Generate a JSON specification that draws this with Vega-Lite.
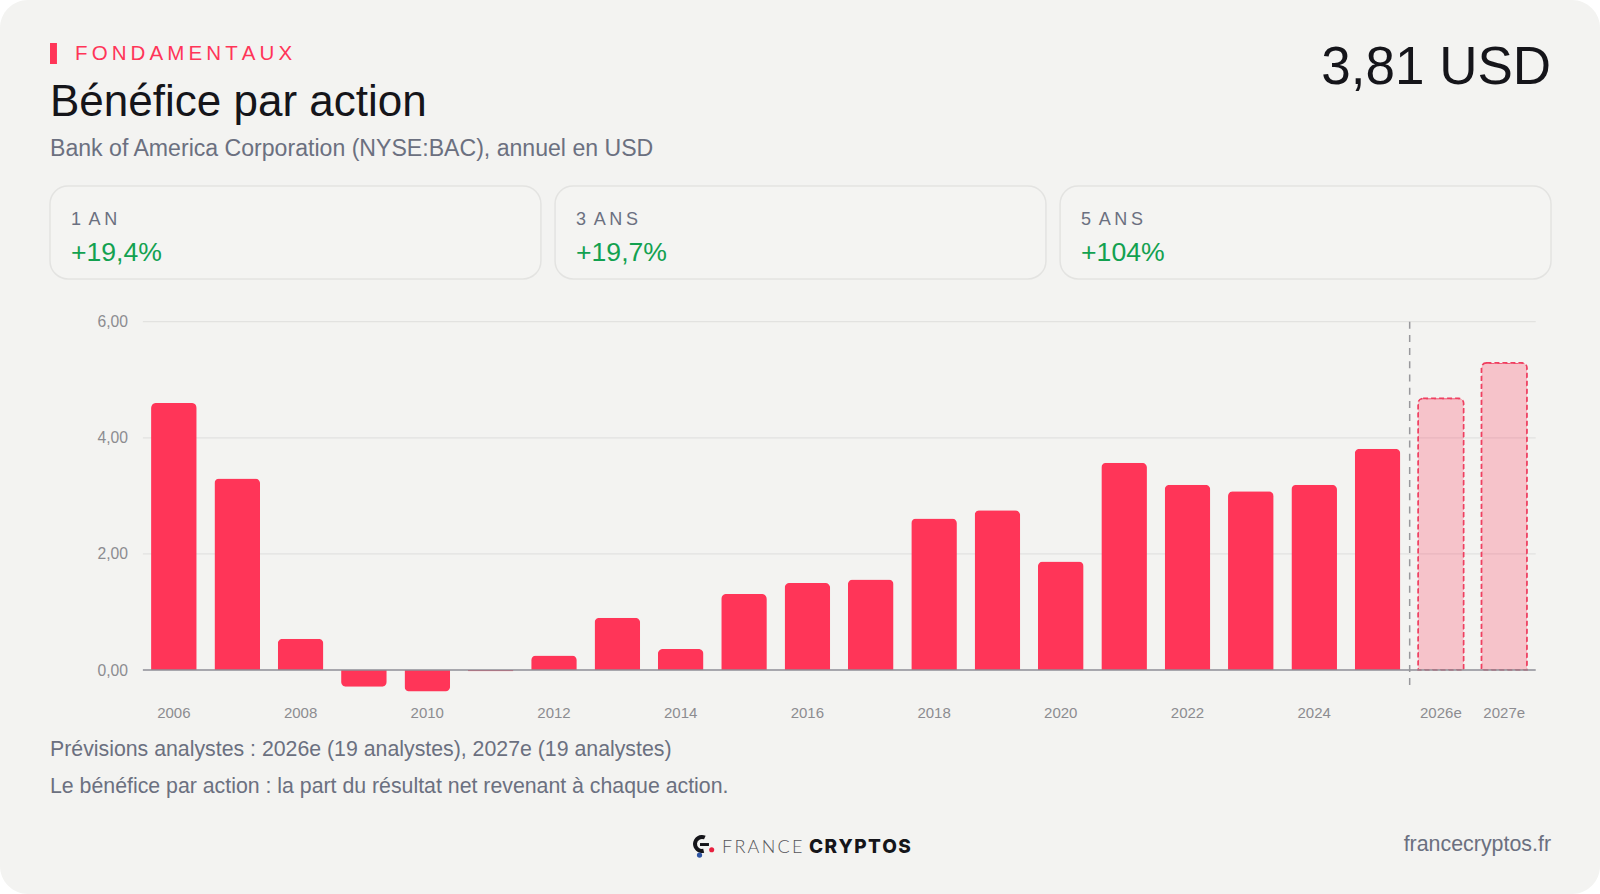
{
  "$schema": "https://vega.github.io/schema/vega-lite/v6.json",
  "width": 1600,
  "height": 894,
  "padding": 0,
  "autosize": {"type": "none"},
  "background": "#ffffff",
  "view": {"fill": "#f3f3f1", "stroke": null, "cornerRadius": 28},
  "config": {
    "font": "Liberation Sans",
    "text": {"baseline": "alphabetic"},
    "locale": {"number": {"decimal": ",", "thousands": " ", "grouping": [3], "currency": ["", " $"]}}
  },
  "datasets": {
    "eps": [
      {"year": "2006", "eps": 4.6, "kind": "actual"},
      {"year": "2007", "eps": 3.3, "kind": "actual"},
      {"year": "2008", "eps": 0.54, "kind": "actual"},
      {"year": "2009", "eps": -0.29, "kind": "actual"},
      {"year": "2010", "eps": -0.37, "kind": "actual"},
      {"year": "2011", "eps": -0.02, "kind": "actual"},
      {"year": "2012", "eps": 0.25, "kind": "actual"},
      {"year": "2013", "eps": 0.9, "kind": "actual"},
      {"year": "2014", "eps": 0.36, "kind": "actual"},
      {"year": "2015", "eps": 1.31, "kind": "actual"},
      {"year": "2016", "eps": 1.5, "kind": "actual"},
      {"year": "2017", "eps": 1.56, "kind": "actual"},
      {"year": "2018", "eps": 2.61, "kind": "actual"},
      {"year": "2019", "eps": 2.75, "kind": "actual"},
      {"year": "2020", "eps": 1.87, "kind": "actual"},
      {"year": "2021", "eps": 3.57, "kind": "actual"},
      {"year": "2022", "eps": 3.19, "kind": "actual"},
      {"year": "2023", "eps": 3.08, "kind": "actual"},
      {"year": "2024", "eps": 3.19, "kind": "actual"},
      {"year": "2025", "eps": 3.81, "kind": "actual"},
      {"year": "2026e", "eps": 4.68, "kind": "forecast"},
      {"year": "2027e", "eps": 5.29, "kind": "forecast"}
    ],
    "cards": [
      {"period": "1 AN", "label": "1\u2009 A\u2009N", "change": "+19,4%"},
      {"period": "3 ANS", "label": "3\u2009 A\u2009N\u2009S", "change": "+19,7%"},
      {"period": "5 ANS", "label": "5\u2009 A\u2009N\u2009S", "change": "+104%"}
    ]
  },
  "layer": [
    {
      "layer": [
        {
          "data": {"values": [{"tick": 2, "from": "2006", "to": "2027e"}, {"tick": 4, "from": "2006", "to": "2027e"}, {"tick": 6, "from": "2006", "to": "2027e"}]},
          "mark": {"type": "rule", "color": "#e2e2e0", "strokeWidth": 1.2, "xOffset": -31, "x2Offset": 31.5},
          "encoding": {
            "x": {
              "field": "from",
              "type": "nominal",
              "sort": null,
              "scale": {
                "domain": ["2006", "2007", "2008", "2009", "2010", "2011", "2012", "2013", "2014", "2015", "2016", "2017", "2018", "2019", "2020", "2021", "2022", "2023", "2024", "2025", "2026e", "2027e"],
                "type": "band",
                "range": [142.2, 1535.9],
                "paddingInner": 0.28,
                "paddingOuter": 0.14
              },
              "axis": {
                "values": ["2006", "2008", "2010", "2012", "2014", "2016", "2018", "2020", "2022", "2024", "2026e", "2027e"],
                "orient": "bottom",
                "offset": -224,
                "title": null,
                "domain": false,
                "ticks": false,
                "grid": false,
                "labelAngle": 0,
                "labelPadding": 35,
                "labelFontSize": 15,
                "labelColor": "#8c8c90",
                "labelOverlap": false
              }
            },
            "x2": {"field": "to"},
            "y": {
              "field": "tick",
              "type": "quantitative",
              "scale": {"domain": [-0.5, 6], "range": [699.03, 321.7], "nice": false, "zero": false},
              "axis": {
                "values": [0, 2, 4, 6],
                "format": ".2f",
                "orient": "left",
                "offset": -142.5,
                "title": null,
                "domain": false,
                "ticks": false,
                "grid": false,
                "labelPadding": 15,
                "labelFontSize": 15.7,
                "labelColor": "#8c8c90"
              }
            }
          }
        },
        {
          "data": {"name": "eps"},
          "transform": [{"filter": "datum.kind == 'actual' && datum.eps >= 0"}],
          "mark": {"type": "bar", "color": "#ff3558", "cornerRadiusTopLeft": 5, "cornerRadiusTopRight": 5},
          "encoding": {
            "x": {"field": "year", "type": "nominal", "sort": null},
            "y": {"field": "eps", "type": "quantitative"}
          }
        },
        {
          "data": {"name": "eps"},
          "transform": [{"filter": "datum.eps < 0"}],
          "mark": {"type": "bar", "color": "#ff3558", "cornerRadiusBottomLeft": 5, "cornerRadiusBottomRight": 5},
          "encoding": {
            "x": {"field": "year", "type": "nominal", "sort": null},
            "y": {"field": "eps", "type": "quantitative"}
          }
        },
        {
          "data": {"name": "eps"},
          "transform": [{"filter": "datum.kind == 'forecast'"}],
          "mark": {
            "type": "bar",
            "fill": "#ff3558",
            "fillOpacity": 0.25,
            "stroke": "#ef3f60",
            "strokeWidth": 1.6,
            "strokeDash": [5, 3],
            "cornerRadiusTopLeft": 5,
            "cornerRadiusTopRight": 5
          },
          "encoding": {
            "x": {"field": "year", "type": "nominal", "sort": null},
            "y": {"field": "eps", "type": "quantitative"}
          }
        },
        {
          "data": {"values": [{"value": 0, "from": "2006", "to": "2027e"}]},
          "mark": {"type": "rule", "color": "#8e8e96", "strokeWidth": 1.6, "xOffset": -31, "x2Offset": 31.5},
          "encoding": {
            "x": {"field": "from", "type": "nominal", "sort": null},
            "x2": {"field": "to"},
            "y": {"field": "value", "type": "quantitative"}
          }
        },
        {
          "data": {"values": [{"start": "2026e", "top": 6, "bottom": -0.26}]},
          "mark": {"type": "rule", "color": "#98989c", "strokeWidth": 1.5, "strokeDash": [7, 6.2], "xOffset": -31.2},
          "encoding": {
            "x": {"field": "start", "type": "nominal", "sort": null},
            "y": {"field": "top", "type": "quantitative"},
            "y2": {"field": "bottom"}
          }
        }
      ]
    },
    {
      "data": {"name": "cards"},
      "layer": [
        {
          "mark": {"type": "rect", "fill": "#f4f4f2", "stroke": "#e3e3e1", "strokeWidth": 1.5, "cornerRadius": 18},
          "encoding": {
            "x": {
              "field": "period",
              "type": "nominal",
              "sort": null,
              "scale": {"domain": ["1 AN", "3 ANS", "5 ANS"], "type": "band", "range": [50, 1551], "paddingInner": 0.028, "paddingOuter": 0},
              "axis": null
            },
            "y": {"datum": 20.8, "type": "quantitative", "scale": {"domain": [0, 100], "range": [0, 894], "nice": false, "zero": false}, "axis": null},
            "y2": {"datum": 31.2}
          }
        },
        {
          "mark": {"type": "text", "align": "left", "dx": 21, "fontSize": 18, "color": "#6b7080"},
          "encoding": {
            "x": {"field": "period", "type": "nominal", "sort": null, "bandPosition": 0, "axis": null},
            "y": {"datum": 25.18, "type": "quantitative", "axis": null},
            "text": {"field": "label"}
          }
        },
        {
          "mark": {"type": "text", "align": "left", "dx": 21, "fontSize": 26.6, "color": "#12a150"},
          "encoding": {
            "x": {"field": "period", "type": "nominal", "sort": null, "bandPosition": 0, "axis": null},
            "y": {"datum": 29.2, "type": "quantitative", "axis": null},
            "text": {"field": "change"}
          }
        }
      ]
    },
    {
      "layer": [
        {
          "data": {"values": [{"name": "accent"}]},
          "mark": {"type": "rect", "color": "#ff3558"},
          "encoding": {
            "x": {"datum": 3.125, "type": "quantitative", "scale": {"domain": [0, 100], "range": [0, 1600], "nice": false, "zero": false}, "axis": null},
            "x2": {"datum": 3.56},
            "y": {"datum": 4.81, "type": "quantitative", "scale": {"domain": [0, 100], "range": [0, 894], "nice": false, "zero": false}, "axis": null},
            "y2": {"datum": 7.16}
          }
        },
        {
          "data": {"values": [{"label": "F\u2009O\u2009N\u2009D\u2009A\u2009M\u2009E\u2009N\u2009T\u2009A\u2009U\u2009X"}]},
          "mark": {"type": "text", "align": "left", "fontSize": 20.5, "color": "#ff3558"},
          "encoding": {
            "x": {"datum": 4.69, "type": "quantitative", "axis": null},
            "y": {"datum": 6.71, "type": "quantitative", "axis": null},
            "text": {"field": "label"}
          }
        },
        {
          "data": {"values": [{"label": "Bénéfice par action"}]},
          "mark": {"type": "text", "align": "left", "fontSize": 44, "color": "#15151a"},
          "encoding": {
            "x": {"datum": 3.125, "type": "quantitative", "axis": null},
            "y": {"datum": 13.0, "type": "quantitative", "axis": null},
            "text": {"field": "label"}
          }
        },
        {
          "data": {"values": [{"label": "Bank of America Corporation (NYSE:BAC), annuel en USD"}]},
          "mark": {"type": "text", "align": "left", "fontSize": 23.1, "color": "#6b7080"},
          "encoding": {
            "x": {"datum": 3.125, "type": "quantitative", "axis": null},
            "y": {"datum": 17.45, "type": "quantitative", "axis": null},
            "text": {"field": "label"}
          }
        },
        {
          "data": {"values": [{"label": "3,81 USD"}]},
          "mark": {"type": "text", "align": "right", "fontSize": 53, "color": "#15151a"},
          "encoding": {
            "x": {"datum": 96.94, "type": "quantitative", "axis": null},
            "y": {"datum": 9.45, "type": "quantitative", "axis": null},
            "text": {"field": "label"}
          }
        },
        {
          "data": {"values": [{"label": "Prévisions analystes : 2026e (19 analystes), 2027e (19 analystes)"}]},
          "mark": {"type": "text", "align": "left", "fontSize": 21.3, "color": "#6b7080"},
          "encoding": {
            "x": {"datum": 3.125, "type": "quantitative", "axis": null},
            "y": {"datum": 84.56, "type": "quantitative", "axis": null},
            "text": {"field": "label"}
          }
        },
        {
          "data": {"values": [{"label": "Le bénéfice par action : la part du résultat net revenant à chaque action."}]},
          "mark": {"type": "text", "align": "left", "fontSize": 21.3, "color": "#6b7080"},
          "encoding": {
            "x": {"datum": 3.125, "type": "quantitative", "axis": null},
            "y": {"datum": 88.7, "type": "quantitative", "axis": null},
            "text": {"field": "label"}
          }
        },
        {
          "data": {"values": [{"label": "francecryptos.fr"}]},
          "mark": {"type": "text", "align": "right", "fontSize": 21.4, "color": "#6b7080"},
          "encoding": {
            "x": {"datum": 96.94, "type": "quantitative", "axis": null},
            "y": {"datum": 95.2, "type": "quantitative", "axis": null},
            "text": {"field": "label"}
          }
        },
        {
          "data": {"values": [{"label": "F\u2009R\u2009A\u2009N\u2009C\u2009E"}]},
          "mark": {"type": "text", "align": "left", "fontSize": 18, "font": "Lato", "fontWeight": 300, "color": "#55555a"},
          "encoding": {
            "x": {"datum": 45.125, "type": "quantitative", "axis": null},
            "y": {"datum": 95.4, "type": "quantitative", "axis": null},
            "text": {"field": "label"}
          }
        },
        {
          "data": {"values": [{"label": "C\u200aR\u200aY\u200aP\u200aT\u200aO\u200aS"}]},
          "mark": {"type": "text", "align": "left", "fontSize": 19, "font": "Inter", "fontWeight": 800, "color": "#15151a"},
          "encoding": {
            "x": {"datum": 50.56, "type": "quantitative", "axis": null},
            "y": {"datum": 95.4, "type": "quantitative", "axis": null},
            "text": {"field": "label"}
          }
        },
        {
          "data": {"values": [{"part": "logo ring"}]},
          "mark": {"type": "arc", "color": "#15151a", "theta": 2.9, "theta2": 6.7, "innerRadius": 5, "outerRadius": 9},
          "encoding": {
            "x": {"datum": 43.875, "type": "quantitative", "axis": null},
            "y": {"datum": 94.4, "type": "quantitative", "axis": null}
          }
        },
        {
          "data": {"values": [{"part": "logo bar"}]},
          "mark": {"type": "rect", "color": "#15151a"},
          "encoding": {
            "x": {"datum": 43.75, "type": "quantitative", "axis": null},
            "x2": {"datum": 44.31},
            "y": {"datum": 94.3, "type": "quantitative", "axis": null},
            "y2": {"datum": 94.63}
          }
        },
        {
          "data": {"values": [{"part": "logo blue"}]},
          "mark": {"type": "point", "filled": true, "opacity": 1, "color": "#2f55a4", "size": 28},
          "encoding": {
            "x": {"datum": 43.72, "type": "quantitative", "axis": null},
            "y": {"datum": 95.65, "type": "quantitative", "axis": null}
          }
        },
        {
          "data": {"values": [{"part": "logo red"}]},
          "mark": {"type": "point", "filled": true, "opacity": 1, "color": "#e8203f", "size": 26},
          "encoding": {
            "x": {"datum": 44.48, "type": "quantitative", "axis": null},
            "y": {"datum": 95.05, "type": "quantitative", "axis": null}
          }
        }
      ]
    }
  ],
  "resolve": {"scale": {"x": "independent", "y": "independent"}}
}
